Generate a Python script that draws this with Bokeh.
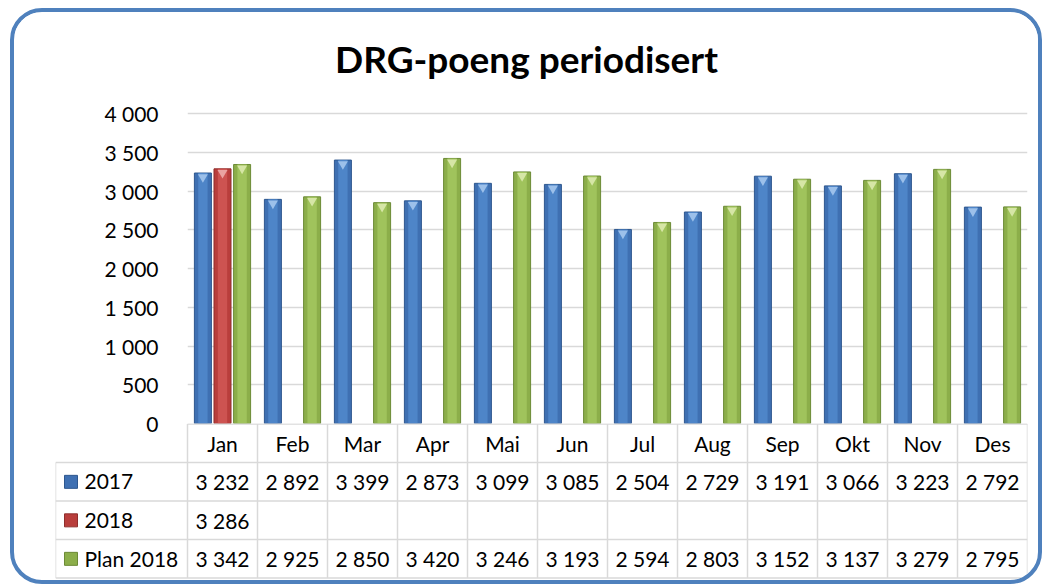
from bokeh.plotting import figure
from bokeh.models import Range1d, FixedTicker, ColumnDataSource
from bokeh.layouts import column
from bokeh.embed import file_html
from bokeh.resources import INLINE
from bokeh.core.properties import value

# ---------------- data ----------------
TITLE = "DRG-poeng periodisert"
MONTHS = ["Jan", "Feb", "Mar", "Apr", "Mai", "Jun", "Jul", "Aug", "Sep", "Okt", "Nov", "Des"]
SERIES = ["2017", "2018", "Plan 2018"]
V2017 = [3232, 2892, 3399, 2873, 3099, 3085, 2504, 2729, 3191, 3066, 3223, 2792]
V2018 = [3286, None, None, None, None, None, None, None, None, None, None, None]
VPLAN = [3342, 2925, 2850, 3420, 3246, 3193, 2594, 2803, 3152, 3137, 3279, 2795]
Y_TICKS = [0, 500, 1000, 1500, 2000, 2500, 3000, 3500, 4000]
Y_TICK_LABELS = ["0", "500", "1 000", "1 500", "2 000", "2 500", "3 000", "3 500", "4 000"]

# ---------------- style ----------------
FONT = "Lato"
BASE = ["#3f70b2", "#b93e3c", "#8cae4a"]
EDGE = ["#2e578e", "#8e2e2c", "#6c8a36"]
INNER = ["#4e85c8", "#cd5351", "#a0c35c"]
BEVEL = ["#9cc0ea", "#eaa3a1", "#d6e6a6"]
OFFSETS = [-0.28, 0.0, 0.28]
BAR_W = 0.243
GRID = "#d9d9d9"
COL_PX = 70.0
LEG_W = 132 / COL_PX
ROW_PX = 38.5
W = 1024
HA = 411          # canvas height down to the zero line
OV = 18           # overlap with the table below (room for the "0" label)
HB = 157
FRAME_L = 173
TOP_PAD = 10      # canvas px above the extended frame
PLOT_TOP = 101    # canvas y of the 4000 gridline
FRAME_H = 310     # px from 0 to 4000
TITLE_BASE = 46   # canvas y of the title baseline

n = len(MONTHS)
values = [V2017, V2018, VPLAN]
ymax = Y_TICKS[-1]
px_per_unit = ymax / FRAME_H
y_top = ymax + (PLOT_TOP - TOP_PAD) * px_per_unit

# ---------------- chart ----------------
pA = figure(width=W, height=HA + OV, x_range=Range1d(0, n), y_range=Range1d(0, y_top),
            output_backend="svg", toolbar_location=None, x_axis_location=None,
            min_border_left=FRAME_L, min_border_right=11, min_border_top=TOP_PAD,
            min_border_bottom=OV)
pA.frame_align = False
pA.outline_line_color = None
pA.background_fill_color = "white"
pA.border_fill_color = "white"
pA.xgrid.visible = False
pA.ygrid.ticker = FixedTicker(ticks=Y_TICKS)
pA.ygrid.grid_line_color = GRID
pA.ygrid.grid_line_width = 1.5
ax = pA.yaxis[0]
ax.ticker = FixedTicker(ticks=Y_TICKS)
ax.major_label_overrides = {t: l for t, l in zip(Y_TICKS, Y_TICK_LABELS)}
ax.axis_line_color = None
ax.major_tick_line_color = None
ax.minor_tick_line_color = None
ax.major_tick_out = 0
ax.major_tick_in = 0
ax.minor_tick_out = 0
ax.major_label_standoff = 29
ax.major_label_text_font = FONT
ax.major_label_text_font_size = "21px"
ax.major_label_text_color = "black"

# title drawn as text in the (extended) plot area above the 4000 line
pA.text(x=[(512 - FRAME_L) / COL_PX], y=[ymax + (PLOT_TOP - TITLE_BASE) * px_per_unit],
        text=[TITLE], text_font=value(FONT), text_font_size="37px", text_font_style="bold",
        text_align="center", text_baseline="alphabetic", text_color="black")

for k, vals in enumerate(values):
    xs, ys = [], []
    for i, v in enumerate(vals):
        if v is not None:
            xs.append(i + 0.5 + OFFSETS[k])
            ys.append(v)
    src = ColumnDataSource(dict(x=xs, top=ys, bev=[y - 4 * px_per_unit for y in ys]))
    pA.vbar(x="x", top="top", bottom=0, width=BAR_W, source=src,
            fill_color=BASE[k], line_color=EDGE[k], line_width=1)
    pA.vbar(x="x", top="top", bottom=0, width=BAR_W * 0.55, source=src,
            fill_color=INNER[k], line_color=None)
    pA.scatter(x="x", y="bev", marker="inverted_triangle", size=10, source=src,
               fill_color=BEVEL[k], line_color=None)

# ---------------- table ----------------
nrows = len(SERIES) + 1
total_units = HB / ROW_PX
top_pad = 0.6 / ROW_PX
pB = figure(width=W, height=HB, x_range=Range1d(-LEG_W, n),
            y_range=Range1d(total_units - top_pad, -top_pad),
            output_backend="svg", toolbar_location=None, x_axis_location=None, y_axis_location=None,
            min_border_left=41, min_border_right=11, min_border_top=0, min_border_bottom=0,
            styles={"margin-top": f"-{OV}px"})
pB.frame_align = False
pB.outline_line_color = None
pB.background_fill_color = None
pB.border_fill_color = None
pB.grid.visible = False

hx0, hx1, hy0, hy1 = [], [], [], []
for r in range(nrows + 1):
    hx0.append(0 if r == 0 else -LEG_W)
    hx1.append(n)
    hy0.append(r)
    hy1.append(r)
for j in range(n + 1):
    hx0.append(j)
    hx1.append(j)
    hy0.append(0)
    hy1.append(nrows)
hx0.append(-LEG_W); hx1.append(-LEG_W); hy0.append(1); hy1.append(nrows)
pB.segment(x0=hx0, y0=hy0, x1=hx1, y1=hy1, line_color=GRID, line_width=1.5)

tx, ty, tt = [], [], []
for i, m in enumerate(MONTHS):
    tx.append(i + 0.5); ty.append(0.5); tt.append(m)
for k, vals in enumerate(values):
    for i, v in enumerate(vals):
        if v is not None:
            tx.append(i + 0.5); ty.append(k + 1.5); tt.append(f"{v:,}".replace(",", " "))
pB.text(x=tx, y=ty, text=tt, text_font=value(FONT), text_font_size="21px",
        text_align="center", text_baseline="middle", text_color="black")

lx = [-LEG_W + 29 / COL_PX] * len(SERIES)
ly = [k + 1.5 for k in range(len(SERIES))]
pB.text(x=lx, y=ly, text=SERIES, text_font=value(FONT), text_font_size="21px",
        text_align="left", text_baseline="middle", text_color="black")
sx = [-LEG_W + 15.5 / COL_PX] * len(SERIES)
pB.scatter(x=sx, y=ly, marker="square", size=13, fill_color=BASE, line_color=EDGE)

layout = column(pA, pB, spacing=0,
                styles={"border": "4px solid #4f81bd", "border-radius": "32px",
                        "overflow": "hidden", "margin": "8px 0px 0px 10px"})

open("out.html", "w").write(file_html(layout, INLINE))
